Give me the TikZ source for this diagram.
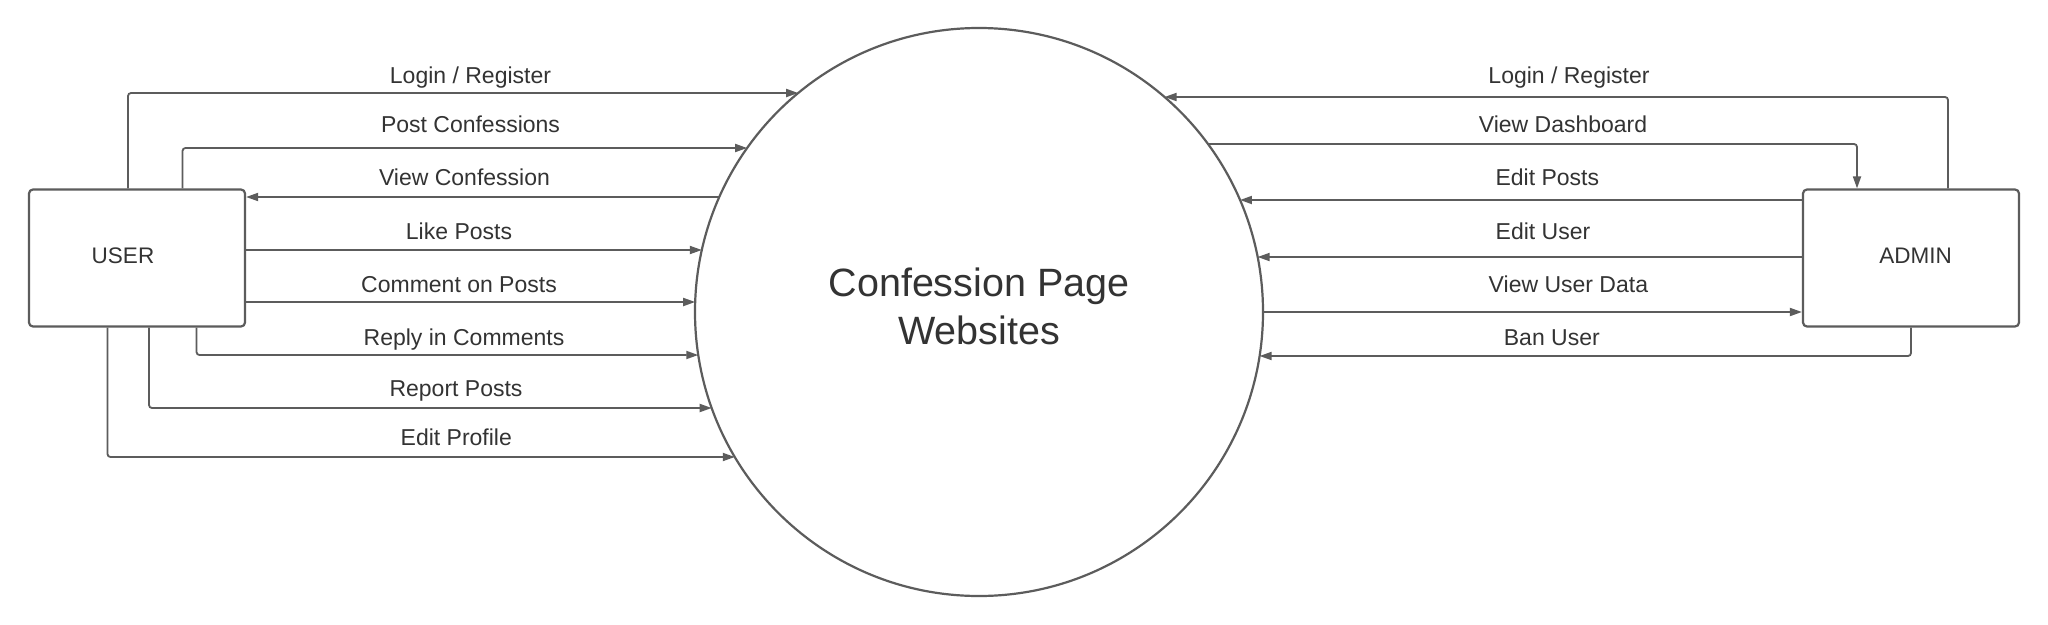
\documentclass[tikz,border=0pt]{standalone}
\usepackage{fontspec}
\setmainfont{Liberation Sans}
\usetikzlibrary{arrows.meta,calc}
\definecolor{ln}{HTML}{5C5C5C}
\definecolor{tx}{HTML}{333333}
\begin{document}
\begin{tikzpicture}[x=1pt,y=-1pt,
  box/.style={draw=ln, line width=2.2pt, rounded corners=4pt, minimum width=216pt, minimum height=137pt, inner sep=0pt},
  boxtext/.style={text=tx, font=\fontsize{22.5}{27}\selectfont, inner sep=0pt},
  flow/.style={draw=ln, line width=1.8pt, rounded corners=3pt, -{Triangle[length=12pt,width=8pt]}},
  lbl/.style={text=tx, font=\fontsize{23}{27}\selectfont, anchor=base, inner sep=0pt}]
\fill[white] (0,0) rectangle (2048,624);
\node[circle, draw=ln, line width=2.2pt, minimum size=568pt, inner sep=0pt] (C) at (979,312) {};
\node[align=center, text=tx, font=\fontsize{39.5}{47.5}\selectfont, inner sep=0pt] (ct) at (979,306.5) {Confession Page\\Websites};
\node[box] (user) at (137,258) {};
\node[boxtext] (usert) at (123,256) {USER};
\node[box] (admin) at (1911,258) {};
\node[boxtext] (admint) at (1915.5,256) {ADMIN};
% border points of the circle
\foreach \n/\y in {l1/93, l2/148, l3/197, l4/250, l5/302, l6/355, l7/408, l8/457}
  \coordinate (\n) at ({979-100*sqrt(8.0656-((\y-312)/100)^2)},\y);
\foreach \n/\y in {r1/97, r2/144, r3/200, r4/257, r5/312, r6/356}
  \coordinate (\n) at ({979+100*sqrt(8.0656-((\y-312)/100)^2)},\y);
% USER flows
\draw[flow] ([xshift=-9pt]user.north) |- (l1);
\draw[flow] ([xshift=45.5pt]user.north) |- (l2);
\draw[flow] (l3) -- (user.east |- l3);
\draw[flow] (user.east |- l4) -- (l4);
\draw[flow] (user.east |- l5) -- (l5);
\draw[flow] ([xshift=59.5pt]user.south) |- (l6);
\draw[flow] ([xshift=12pt]user.south) |- (l7);
\draw[flow] ([xshift=-29.5pt]user.south) |- (l8);
% ADMIN flows
\draw[flow] ([xshift=37pt]admin.north) |- (r1);
\draw[flow] (r2) -| ([xshift=-54pt]admin.north);
\draw[flow] (admin.west |- r3) -- (r3);
\draw[flow] (admin.west |- r4) -- (r4);
\draw[flow] (r5) -- (admin.west |- r5);
\draw[flow] (admin.south) |- (r6);
% labels
\node[lbl] (t1) at (470.5,83) {Login / Register};
\node[lbl] (t2) at (470.5,132.5) {Post Confessions};
\node[lbl] (t3) at (464.5,185.5) {View Confession};
\node[lbl] (t4) at (459,239.5) {Like Posts};
\node[lbl] (t5) at (459,292) {Comment on Posts};
\node[lbl] (t6) at (464,345.5) {Reply in Comments};
\node[lbl] (t7) at (456,396.5) {Report Posts};
\node[lbl] (t8) at (456.3,445.5) {Edit Profile};
\node[lbl] (s1) at (1569,83) {Login / Register};
\node[lbl] (s2) at (1563,132.5) {View Dashboard};
\node[lbl] (s3) at (1547.3,185.5) {Edit Posts};
\node[lbl] (s4) at (1543,239.5) {Edit User};
\node[lbl] (s5) at (1568.4,292) {View User Data};
\node[lbl] (s6) at (1551.8,345.5) {Ban User};
\end{tikzpicture}
\end{document}
